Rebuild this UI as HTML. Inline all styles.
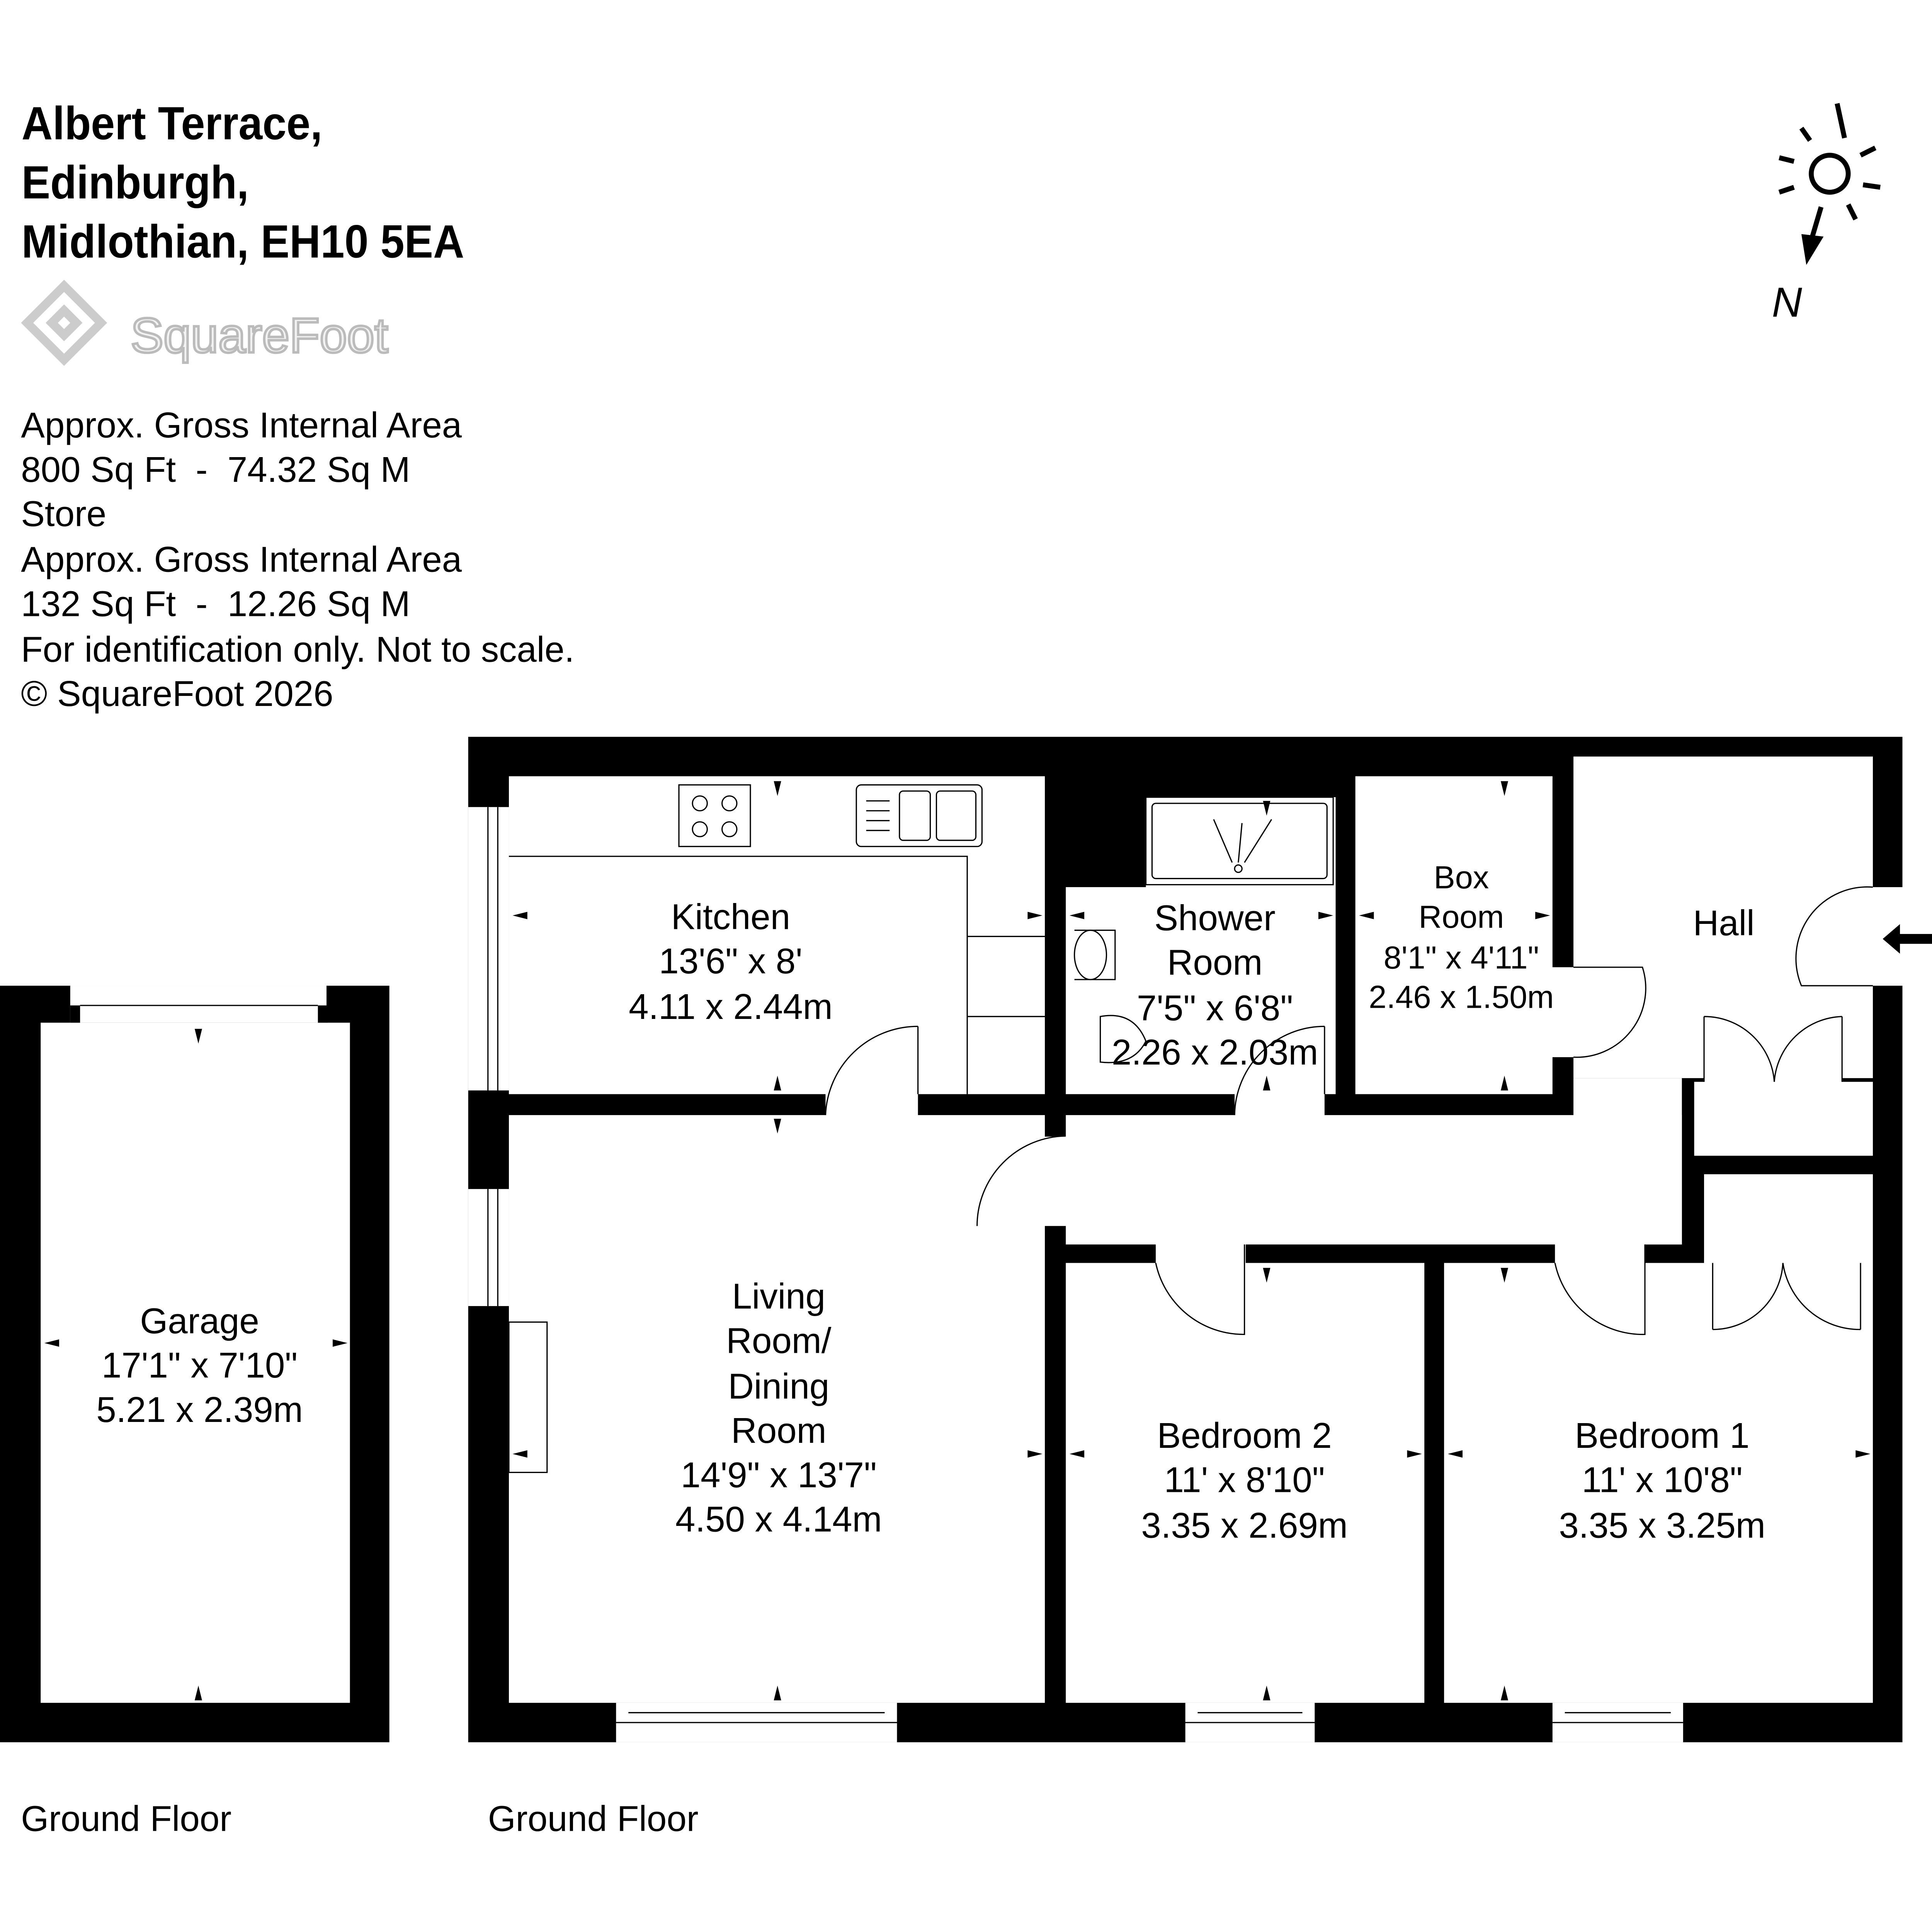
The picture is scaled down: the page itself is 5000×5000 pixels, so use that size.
<!DOCTYPE html>
<html><head><meta charset="utf-8"><style>
html,body{margin:0;padding:0;background:#fff;}
svg{display:block}
text{font-family:"Liberation Sans",Arial,sans-serif;fill:#000}
</style></head><body>
<svg width="5000" height="5000" viewBox="0 0 1568 1568" xmlns="http://www.w3.org/2000/svg">
<rect width="1568" height="1568" fill="#fff"/>
<g font-weight="bold" font-size="38" transform="scale(0.92,1)">
<text x="19" y="113">Albert Terrace,</text>
<text x="19" y="161">Edinburgh,</text>
<text x="19" y="209">Midlothian, EH10 5EA</text>
</g>
<g fill="none" stroke="#ccc" stroke-width="7">
<path d="M52 232 L82 262 L52 292 L22 262 Z"/>
<path d="M52 252 L62 262 L52 272 L42 262 Z"/>
</g>
<text x="106" y="286" font-size="40" stroke="#bbb" stroke-width="2" style="fill:#f2f2f2">SquareFoot</text>
<g font-size="29">
<text x="17" y="355">Approx. Gross Internal Area</text>
<text x="17" y="391">800 Sq Ft &#160;- &#160;74.32 Sq M</text>
<text x="17" y="427">Store</text>
<text x="17" y="464">Approx. Gross Internal Area</text>
<text x="17" y="500">132 Sq Ft &#160;- &#160;12.26 Sq M</text>
<text x="17" y="537">For identification only. Not to scale.</text>
<text x="17" y="573">© SquareFoot 2026</text>
</g>
<g stroke="#000" stroke-width="4" fill="none">
<circle cx="1485" cy="141" r="15"/>
<line x1="1497" y1="112" x2="1491" y2="84"/>
<line x1="1462" y1="104" x2="1469" y2="114"/>
<line x1="1444" y1="128" x2="1456" y2="131"/>
<line x1="1444" y1="156" x2="1456" y2="152"/>
<line x1="1510" y1="126" x2="1522" y2="120"/>
<line x1="1512" y1="150" x2="1526" y2="152"/>
<line x1="1500" y1="166" x2="1506" y2="178"/>
<line x1="1478" y1="168" x2="1470" y2="195"/>
</g>
<path d="M1462 190 L1480 192 L1466 215 Z" fill="#000"/>
<text x="1438" y="257" font-size="34" font-style="italic">N</text>

<rect x="0" y="800" width="316" height="614" fill="#000"/>
<rect x="33" y="830" width="251" height="552" fill="#fff"/>
<rect x="57" y="800" width="208" height="30" fill="#fff"/>
<rect x="57" y="816" width="8" height="14" fill="#000"/>
<rect x="258" y="816" width="8" height="14" fill="#000"/>
<line x1="65" y1="816" x2="258" y2="816" stroke="#000" stroke-width="1"/>

<rect x="380" y="598" width="1164" height="816" fill="#000"/>
<g fill="#fff">
<rect x="413" y="630" width="435" height="258"/>
<path d="M930 647 H1084 V888 H865 V720 H930 Z"/>
<rect x="1100" y="630" width="160" height="258"/>
<rect x="1277" y="614" width="243" height="261"/>
<rect x="1277" y="875" width="88" height="135"/>
<rect x="865" y="905" width="500" height="105"/>
<rect x="1375" y="878" width="145" height="60"/>
<rect x="1383" y="953" width="137" height="72"/>
<rect x="413" y="905" width="435" height="477"/>
<rect x="865" y="1025" width="291" height="357"/>
<rect x="1172" y="1025" width="348" height="357"/>
<rect x="670" y="886" width="75" height="21"/>
<rect x="846" y="922" width="21" height="73"/>
<rect x="1002" y="886" width="73" height="21"/>
<rect x="1258" y="785" width="21" height="73"/>
<rect x="938" y="1008" width="73" height="19"/>
<rect x="1262" y="1008" width="73" height="19"/>
<rect x="1383" y="1023" width="128" height="4"/>
<rect x="1383" y="873" width="112" height="7"/>
<rect x="1518" y="720" width="28" height="80"/>
<rect x="380" y="655" width="33" height="230"/>
<rect x="380" y="965" width="33" height="95"/>
<rect x="500" y="1382" width="228" height="32"/>
<rect x="962" y="1382" width="105" height="32"/>
<rect x="1260" y="1382" width="106" height="32"/>
</g>
<g fill="none" stroke="#000" stroke-width="1">
<line x1="396" y1="655" x2="396" y2="885"/><line x1="404" y1="655" x2="404" y2="885"/>
<line x1="396" y1="965" x2="396" y2="1060"/><line x1="404" y1="965" x2="404" y2="1060"/>
<line x1="500" y1="1398" x2="728" y2="1398"/><line x1="510" y1="1390" x2="718" y2="1390"/>
<line x1="962" y1="1398" x2="1067" y2="1398"/><line x1="972" y1="1390" x2="1057" y2="1390"/>
<line x1="1260" y1="1398" x2="1366" y2="1398"/><line x1="1270" y1="1390" x2="1356" y2="1390"/>
<path d="M413 695 H785 V888"/>
<path d="M785 760 H848 M785 825 H848"/>
<rect x="551" y="637" width="58" height="50"/>
<circle cx="568" cy="652" r="6"/><circle cx="592" cy="652" r="6"/>
<circle cx="568" cy="673" r="6"/><circle cx="592" cy="673" r="6"/>
<rect x="695" y="637" width="102" height="50" rx="4"/>
<rect x="730" y="642" width="25" height="40" rx="3"/><rect x="760" y="642" width="32" height="40" rx="3"/>
<path d="M703 650 H722 M703 658 H722 M703 666 H722 M703 674 H722"/>
<rect x="413" y="1073" width="31" height="122"/>
<rect x="930" y="647" width="152" height="71"/>
<rect x="935" y="652" width="142" height="61" rx="3"/>
<path d="M985 665 L1000 700 M1032 665 L1010 700 M1008 668 L1005 700"/>
<circle cx="1005" cy="705" r="3"/>
<ellipse cx="885" cy="775" rx="13" ry="20"/>
<path d="M872 755 H905 V795 H872"/>
<path d="M893 825 Q920 820 930 845 Q920 865 893 862 Z"/>
<path d="M745 833 V888 M745 833 A75 75 0 0 0 670 905"/>
<path d="M848 922 H865 M793 995 A73 73 0 0 1 865 922"/>
<path d="M1075 833 V888 M1075 833 A73 73 0 0 0 1002 905"/>
<path d="M1277 785 H1333 A56 56 0 0 1 1277 858"/>
<path d="M1010 1010 V1083 A73 73 0 0 1 938 1025"/>
<path d="M1335 1010 V1083 A73 73 0 0 1 1262 1025"/>
<path d="M1520 800 H1462 A58 58 0 0 1 1520 720"/>
<path d="M1383 825 V878 M1383 825 A57 57 0 0 1 1440 878 M1495 825 V878 M1495 825 A57 57 0 0 0 1440 878"/>
<path d="M1390 1079 V1025 M1390 1079 A57 57 0 0 0 1447 1025 M1510 1079 V1025 M1510 1079 A63 63 0 0 1 1447 1025"/>
</g>
<g fill="#000">
<path d="M158 835 l3 12 l3 -12 z"/><path d="M158 1380 l3 -12 l3 12 z"/>
<path d="M36 1090 l12 -3 l0 6 z"/><path d="M282 1090 l-12 -3 l0 6 z"/>
<path d="M628 634 l3 12 l3 -12 z"/><path d="M628 885 l3 -12 l3 12 z"/>
<path d="M416 743 l12 -3 l0 6 z"/><path d="M846 743 l-12 -3 l0 6 z"/>
<path d="M628 908 l3 12 l3 -12 z"/><path d="M628 1380 l3 -12 l3 12 z"/>
<path d="M416 1180 l12 -3 l0 6 z"/><path d="M846 1180 l-12 -3 l0 6 z"/>
<path d="M1025 650 l3 12 l3 -12 z"/><path d="M1025 885 l3 -12 l3 12 z"/>
<path d="M868 743 l12 -3 l0 6 z"/><path d="M1082 743 l-12 -3 l0 6 z"/>
<path d="M1218 634 l3 12 l3 -12 z"/><path d="M1218 885 l3 -12 l3 12 z"/>
<path d="M1103 743 l12 -3 l0 6 z"/><path d="M1258 743 l-12 -3 l0 6 z"/>
<path d="M1025 1029 l3 12 l3 -12 z"/><path d="M1025 1380 l3 -12 l3 12 z"/>
<path d="M868 1180 l12 -3 l0 6 z"/><path d="M1154 1180 l-12 -3 l0 6 z"/>
<path d="M1218 1029 l3 12 l3 -12 z"/><path d="M1218 1380 l3 -12 l3 12 z"/>
<path d="M1175 1180 l12 -3 l0 6 z"/><path d="M1518 1180 l-12 -3 l0 6 z"/>
<path d="M1528 762 l14 -12 v8 h26 v8 h-26 v8 z"/>
</g>
<g font-size="29" text-anchor="middle">
<text x="162" y="1082">Garage</text><text x="162" y="1118">17'1" x 7'10"</text><text x="162" y="1154">5.21 x 2.39m</text>
<text x="593" y="754">Kitchen</text><text x="593" y="790">13'6" x 8'</text><text x="593" y="827">4.11 x 2.44m</text>
<text x="986" y="755">Shower</text><text x="986" y="791">Room</text><text x="986" y="828">7'5" x 6'8"</text><text x="986" y="864">2.26 x 2.03m</text>
<text x="1399" y="759">Hall</text>
<text x="632" y="1062">Living</text><text x="632" y="1098">Room/</text><text x="632" y="1135">Dining</text><text x="632" y="1171">Room</text><text x="632" y="1207">14'9" x 13'7"</text><text x="632" y="1243">4.50 x 4.14m</text>
<text x="1010" y="1175">Bedroom 2</text><text x="1010" y="1211">11' x 8'10"</text><text x="1010" y="1248">3.35 x 2.69m</text>
<text x="1349" y="1175">Bedroom 1</text><text x="1349" y="1211">11' x 10'8"</text><text x="1349" y="1248">3.35 x 3.25m</text>
</g>
<g font-size="26" text-anchor="middle">
<text x="1186" y="721">Box</text><text x="1186" y="753">Room</text><text x="1186" y="786">8'1" x 4'11"</text><text x="1186" y="818">2.46 x 1.50m</text>
</g>
<text x="17" y="1486" font-size="29">Ground Floor</text>
<text x="396" y="1486" font-size="29">Ground Floor</text>
</svg>
</body></html>
